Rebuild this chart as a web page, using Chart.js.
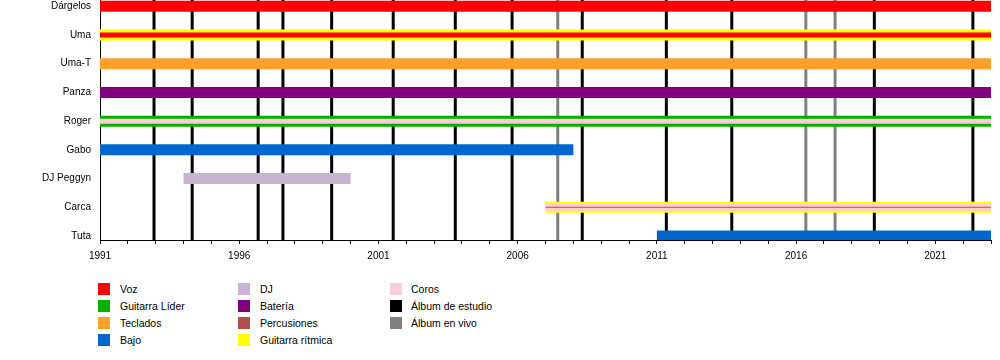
<!DOCTYPE html>
<html lang="es">
  <head>
    <meta charset="UTF-8">
    <title>Miembros</title>
    <script src="https://cdn.jsdelivr.net/npm/chart.js@4.4.1/dist/chart.umd.min.js"></script>
    <style>
      body { margin: 0; background: #fff; font-family: 'Liberation Sans', Arial, sans-serif; }
      #wrap { position: relative; width: 1000px; height: 360px; }
      #legend { position: absolute; left: 0; top: 0; }
      .item { position: absolute; font-size: 10.5px; color: #000; white-space: nowrap; line-height: 12px; }
      .sw { position: absolute; width: 12px; height: 12px; }
    </style>
    <script>
      // miembros (de arriba a abajo)
      const members = ['Dárgelos', 'Uma', 'Uma-T', 'Panza', 'Roger', 'Gabo', 'DJ Peggyn', 'Carca', 'Tuta'];

      // periodos: miembro, rol, inicio, fin (las capas de un mismo miembro van en orden)
      const spanMember = ['Dárgelos', 'Uma', 'Uma', 'Uma-T', 'Panza', 'Roger', 'Roger', 'Gabo', 'DJ Peggyn', 'Carca', 'Carca', 'Carca', 'Tuta'];
      const spanRole = ['Voz', 'Guitarra rítmica', 'Voz', 'Teclados', 'Batería', 'Guitarra Líder', 'Coros', 'Bajo', 'DJ', 'Guitarra rítmica', 'Coros', 'Percusiones', 'Bajo'];
      const spanStart = [1991, 1991, 1991, 1991, 1991, 1991, 1991, 1991, 1994, 2007, 2007, 2007, 2011];
      const spanEnd = [2023, 2023, 2023, 2023, 2023, 2023, 2023, 2008, 2000, 2023, 2023, 2023, 2023];

      // lanzamientos
      const studioAlbums = [1992.94, 1994.31, 1996.68, 1997.57, 1999.32, 2001.53, 2003.76, 2005.8, 2008.32, 2011.34, 2013.69, 2018.81, 2022.35];
      const liveAlbums = [2007.44, 2016.35, 2017.4];

      const legendLabels = ['Voz', 'Guitarra Líder', 'Teclados', 'Bajo', 'DJ', 'Batería', 'Percusiones', 'Guitarra rítmica', 'Coros', 'Álbum de estudio', 'Álbum en vivo'];

      const roleColor = {
        'Voz': '#ff0000',
        'Guitarra Líder': '#00b000',
        'Teclados': '#ffa02a',
        'Bajo': '#0066cc',
        'DJ': '#c8b4d2',
        'Batería': '#800080',
        'Percusiones': '#b34d4d',
        'Guitarra rítmica': '#ffff00',
        'Coros': '#ffccd6',
        'Álbum de estudio': '#000000',
        'Álbum en vivo': '#808080'
      };

      const Y_MIN = -0.22, Y_MAX = 8.14;

      window.onload = function () {
        const datasets = [];
        const layerCount = {};
        spanMember.forEach((m) => { layerCount[m] = (layerCount[m] || 0) + 1; });
        const seen = {};
        spanMember.forEach((m, i) => {
          const layer = seen[m] || 0;
          seen[m] = layer + 1;
          let w = 11;
          if (layer === 1) w = layerCount[m] > 2 ? 7 : 5;
          if (layer === 2) w = 1;
          const y = members.indexOf(m);
          datasets.push({
            data: [{ x: spanStart[i], y: y }, { x: spanEnd[i], y: y }],
            borderColor: roleColor[spanRole[i]],
            borderWidth: w,
            borderCapStyle: 'butt',
            order: 10 - layer
          });
        });
        const addLines = (list, color) => {
          list.forEach((t) => {
            datasets.push({
              data: [{ x: t, y: Y_MIN }, { x: t, y: Y_MAX }],
              borderColor: color,
              borderWidth: 3,
              borderCapStyle: 'butt',
              order: 100
            });
          });
        };
        addLines(studioAlbums, roleColor['Álbum de estudio']);
        addLines(liveAlbums, roleColor['Álbum en vivo']);

        const font = { family: "'Liberation Sans', Arial, sans-serif", size: 10 };
        // sin margen extra para las etiquetas de los extremos
        const noPad = (s) => { s.paddingTop = 0; s.paddingBottom = 0; s.paddingLeft = 0; s.paddingRight = 0; };

        new Chart(document.getElementById('timeline'), {
          type: 'scatter',
          data: { datasets: datasets },
          options: {
            responsive: false,
            animation: false,
            showLine: true,
            elements: { point: { radius: 0, hoverRadius: 0 }, line: { tension: 0 } },
            layout: { padding: { top: 0, right: 9, left: 0, bottom: 0 } },
            plugins: { legend: { display: false }, tooltip: { enabled: false } },
            scales: {
              x: {
                type: 'linear',
                min: 1991,
                max: 2023,
                afterFit: (s) => { s.height = 30; noPad(s); },
                ticks: {
                  stepSize: 1,
                  includeBounds: false,
                  autoSkip: false,
                  maxRotation: 0,
                  color: '#000',
                  font: font,
                  padding: 6,
                  callback: (v) => ((v - 1991) % 5 === 0 ? String(v) : '')
                },
                grid: { drawOnChartArea: false, tickLength: 4, color: '#000' },
                border: { color: '#000', width: 1 }
              },
              y: {
                type: 'linear',
                reverse: true,
                min: Y_MIN,
                max: Y_MAX,
                afterFit: (s) => { s.width = 100; noPad(s); },
                afterBuildTicks: (s) => { s.ticks = members.map((_, i) => ({ value: i })); },
                ticks: {
                  autoSkip: false,
                  color: '#000',
                  font: font,
                  padding: 9,
                  callback: (v) => members[v]
                },
                grid: { display: false, drawTicks: false },
                border: { color: '#000', width: 1 }
              }
            }
          }
        });

        // leyenda en tres columnas
        const legend = document.getElementById('legend');
        const colX = [98, 238, 390];
        const textX = [120, 260, 411];
        legendLabels.forEach((lab, i) => {
          const col = Math.floor(i / 4), row = i % 4;
          const cy = 289 + row * 16.9;
          const sw = document.createElement('div');
          sw.className = 'sw';
          sw.style.left = colX[col] + 'px';
          sw.style.top = (cy - 6) + 'px';
          sw.style.background = roleColor[lab];
          legend.appendChild(sw);
          const t = document.createElement('div');
          t.className = 'item';
          t.style.left = textX[col] + 'px';
          t.style.top = (cy - 6) + 'px';
          t.textContent = lab;
          legend.appendChild(t);
        });
      };
    </script>
  </head>
  <body>
    <div id="wrap">
      <canvas id="timeline" width="1000" height="270"></canvas>
      <div id="legend"></div>
    </div>
  </body>
</html>
